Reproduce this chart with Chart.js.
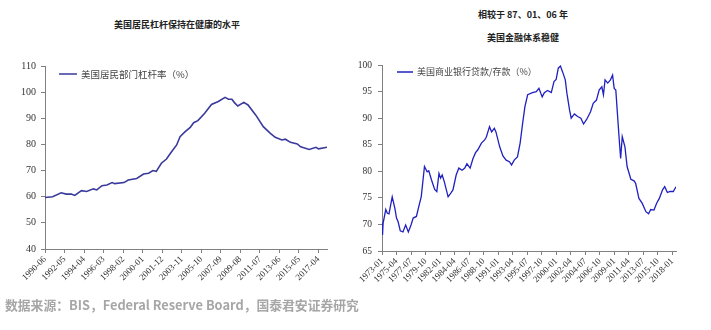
<!DOCTYPE html>
<html>
<head>
<meta charset="utf-8">
<script src="https://cdn.jsdelivr.net/npm/chart.js@4"></script>
<style>
    body { margin: 0; background: #fff; }
    #wrap { position: relative; width: 711px; height: 330px; overflow: hidden; }
    .title { position: absolute; text-align: center; font: bold 9px "Noto Sans CJK SC"; color: #222; line-height: 18px; }
    .source { position: absolute; left: 5px; top: 296px; font: bold 12.8px "Noto Sans CJK SC"; color: #a6a6a6; line-height: 18px; white-space: nowrap; }
    canvas { position: absolute; top: 0; }
</style>
</head>
<body>
<div id="wrap">
    <div class="title" style="left:0; width:354px; top:16px;">美国居民杠杆保持在健康的水平</div>
    <div class="title" style="left:352px; width:342px; top:6px;">相较于 87、01、06 年</div>
    <div class="title" style="left:352px; width:342px; top:29px;">美国金融体系稳健</div>
    <canvas id="leverageChart" width="352" height="300" style="left:0"></canvas>
    <canvas id="loanChart" width="359" height="300" style="left:352px"></canvas>
    <div class="source">数据来源：BIS，Federal Reserve Board，国泰君安证券研究</div>
</div>
<script>
// 美国居民部门杠杆率 (%)
const leverageDates = [
    '1990-06', '1991-03', '1992-01', '1992-07', '1993-01', '1993-05', '1994-01', '1994-07',
    '1995-03', '1995-07', '1996-01', '1996-07', '1997-01', '1997-04', '1998-03', '1998-08',
    '1999-06', '2000-02', '2000-08', '2001-01', '2001-05', '2001-11', '2002-05', '2002-11',
    '2003-05', '2003-09', '2004-03', '2004-09', '2005-01', '2005-06', '2006-02', '2006-10',
    '2007-06', '2008-02', '2008-06', '2008-10', '2009-01', '2009-05', '2009-12', '2010-05',
    '2011-02', '2011-11', '2012-07', '2013-01', '2013-09', '2014-01', '2014-07', '2015-03',
    '2015-07', '2016-05', '2017-01', '2017-04', '2018-02'
];
const leverageValues = [
    59.7, 60.0, 61.5, 61.0, 61.0, 60.5, 62.3, 62.0,
    63.0, 62.6, 64.2, 64.5, 65.4, 65.0, 65.4, 66.4,
    67.0, 68.7, 69.0, 70.0, 69.7, 72.8, 74.4, 77.2,
    79.8, 83.0, 84.9, 86.5, 88.3, 89.1, 91.9, 95.3,
    96.4, 98.0, 97.3, 97.3, 96.0, 94.7, 96.1, 95.1,
    91.3, 86.8, 84.3, 82.7, 81.7, 82.0, 80.8, 80.2,
    79.1, 78.1, 78.9, 78.3, 78.9
];
const leverageTicks = [
    '1990-06', '1992-05', '1994-04', '1996-03', '1998-02', '2000-01', '2001-12', '2003-11',
    '2005-10', '2007-09', '2009-08', '2011-07', '2013-06', '2015-05', '2017-04'
];

// 美国商业银行贷款/存款 (%)
const loanDates = [
    '1973-01', '1973-02', '1973-03', '1973-08', '1973-11', '1974-02', '1974-08', '1975-01',
    '1975-04', '1975-07', '1975-11', '1976-04', '1976-09', '1977-02', '1977-07', '1977-11',
    '1978-05', '1978-11', '1979-02', '1979-08', '1980-01', '1980-04', '1980-09', '1981-03',
    '1981-07', '1981-11', '1982-02', '1982-05', '1982-09', '1983-04', '1983-09', '1984-01',
    '1984-07', '1984-12', '1985-06', '1985-11', '1986-03', '1986-09', '1987-02', '1987-07',
    '1987-11', '1988-06', '1988-12', '1989-03', '1989-09', '1990-01', '1990-06', '1990-09',
    '1991-04', '1991-10', '1992-04', '1992-10', '1993-02', '1993-07', '1994-01', '1994-06',
    '1994-11', '1995-03', '1995-08', '1996-05', '1996-12', '1997-05', '1997-11', '1998-03',
    '1998-09', '1999-04', '1999-09', '2000-01', '2000-05', '2000-09', '2001-01', '2001-06',
    '2001-09', '2002-02', '2002-05', '2002-11', '2003-05', '2003-11', '2004-04', '2004-10',
    '2005-05', '2005-10', '2006-04', '2006-09', '2007-02', '2007-05', '2007-08', '2008-01',
    '2008-06', '2008-10', '2009-01', '2009-04', '2009-07', '2009-10', '2010-01', '2010-04',
    '2010-09', '2011-01', '2011-08', '2012-02', '2012-05', '2012-11', '2013-05', '2013-12',
    '2014-05', '2014-09', '2015-03', '2015-08', '2016-01', '2016-07', '2016-11', '2017-04',
    '2017-09', '2018-03', '2018-08'
];
const loanValues = [
    70.3, 68.0, 70.2, 72.8, 72.1, 72.0, 75.2, 73.0,
    71.2, 70.5, 68.8, 68.6, 69.9, 68.6, 69.9, 71.2,
    71.5, 74.0, 75.2, 80.9, 79.9, 80.1, 78.4, 76.6,
    76.2, 79.6, 78.7, 79.3, 78.0, 75.2, 75.9, 76.5,
    79.3, 80.6, 80.2, 80.6, 81.4, 80.6, 82.3, 83.5,
    84.0, 85.3, 85.9, 86.4, 88.4, 87.4, 88.1, 87.4,
    84.6, 82.9, 82.1, 81.8, 81.2, 82.1, 82.7, 85.3,
    89.3, 92.2, 94.4, 94.8, 95.0, 95.6, 94.0, 94.8,
    95.2, 94.8, 96.9, 97.3, 99.4, 99.8, 98.7, 97.2,
    94.7, 91.5, 90.0, 90.8, 90.3, 90.0, 88.9, 89.8,
    91.2, 92.8, 93.4, 95.3, 95.9, 94.4, 97.2, 96.6,
    97.2, 98.1, 95.6, 95.3, 90.9, 86.5, 82.4, 86.5,
    84.6, 80.9, 78.5, 78.2, 77.7, 74.9, 74.0, 72.4,
    72.0, 72.8, 72.7, 74.0, 74.9, 76.5, 77.1, 76.0,
    76.2, 76.2, 77.1
];
const loanTicks = [
    '1973-01', '1975-04', '1977-07', '1979-10', '1982-01', '1984-04', '1986-07', '1988-10',
    '1991-01', '1993-04', '1995-07', '1997-10', '2000-01', '2002-04', '2004-07', '2006-10',
    '2009-01', '2011-04', '2013-07', '2015-10', '2018-01'
];

const axisGray = '#808080';
const serif = 'Liberation Serif';

// 'YYYY-MM' -> 距起始月份的月数
function monthsFrom(start, s) {
    const [y0, m0] = start.split('-').map(Number);
    const [y, m] = s.split('-').map(Number);
    return (y - y0) * 12 + (m - m0);
}

// 图例画在坐标区内左上角
const innerLegend = {
    id: 'innerLegend',
    afterDraw(chart, args, opts) {
        const { ctx, chartArea } = chart;
        const ds = chart.data.datasets[0];
        const y = chartArea.top + opts.dy;
        ctx.save();
        ctx.strokeStyle = ds.borderColor;
        ctx.lineWidth = 1.5;
        ctx.beginPath();
        ctx.moveTo(chartArea.left + opts.x0, y);
        ctx.lineTo(chartArea.left + opts.x1, y);
        ctx.stroke();
        ctx.font = opts.font;
        ctx.fillStyle = '#444';
        ctx.textBaseline = 'middle';
        ctx.fillText(ds.label, chartArea.left + opts.x1 + 4, y);
        ctx.restore();
    }
};

function lineChart(id, cfg) {
    const start = cfg.dates[0];
    const points = cfg.dates.map((d, i) => ({ x: monthsFrom(start, d), y: cfg.values[i] }));
    const tickMonths = cfg.ticks.map(t => monthsFrom(start, t));

    new Chart(document.getElementById(id), {
        type: 'line',
        data: {
            datasets: [{
                label: cfg.label,
                data: points,
                borderColor: cfg.color,
                borderWidth: cfg.width,
                pointRadius: 0,
                tension: 0
            }]
        },
        options: {
            responsive: false,
            animation: false,
            layout: { padding: cfg.padding },
            plugins: {
                legend: { display: false },
                tooltip: { enabled: false },
                innerLegend: cfg.legend
            },
            scales: {
                x: {
                    type: 'linear',
                    min: 0,
                    max: points[points.length - 1].x,
                    afterBuildTicks: s => { s.ticks = tickMonths.map(v => ({ value: v })); },
                    afterFit: s => { s.height = cfg.xHeight; },
                    ticks: {
                        autoSkip: false,
                        minRotation: 45,
                        maxRotation: 45,
                        padding: 1,
                        color: '#333',
                        font: { family: serif, size: 9 },
                        callback: (v, i) => cfg.ticks[i]
                    },
                    grid: { drawOnChartArea: false, tickLength: 4, color: axisGray },
                    border: { color: axisGray }
                },
                y: {
                    min: cfg.yMin,
                    max: cfg.yMax,
                    afterFit: s => { s.width = cfg.yWidth; },
                    ticks: {
                        stepSize: cfg.yStep,
                        padding: cfg.yPad,
                        color: '#333',
                        font: { family: serif, size: cfg.yFont }
                    },
                    grid: { drawOnChartArea: false, tickLength: 4, color: axisGray },
                    border: { color: axisGray }
                }
            }
        },
        plugins: [innerLegend]
    });
}

lineChart('leverageChart', {
    label: '美国居民部门杠杆率（%）',
    dates: leverageDates,
    values: leverageValues,
    ticks: leverageTicks,
    color: '#3a3a9c',
    width: 1.6,
    yMin: 40, yMax: 110, yStep: 10, yFont: 10, yPad: 5, yWidth: 45,
    xHeight: 51,
    padding: { left: 0, right: 25, top: 66, bottom: 0 },
    legend: { x0: 14, x1: 32, dy: 8, font: '9.5px "Noto Sans CJK SC"' }
});

lineChart('loanChart', {
    label: '美国商业银行贷款/存款（%）',
    dates: loanDates,
    values: loanValues,
    ticks: loanTicks,
    color: '#2020c0',
    width: 1.3,
    yMin: 65, yMax: 100, yStep: 5, yFont: 9.5, yPad: 6, yWidth: 30,
    xHeight: 49,
    padding: { left: 0, right: 35, top: 65, bottom: 0 },
    legend: { x0: 15, x1: 31, dy: 7, font: '9px "Noto Sans CJK SC"' }
});
</script>
</body>
</html>
